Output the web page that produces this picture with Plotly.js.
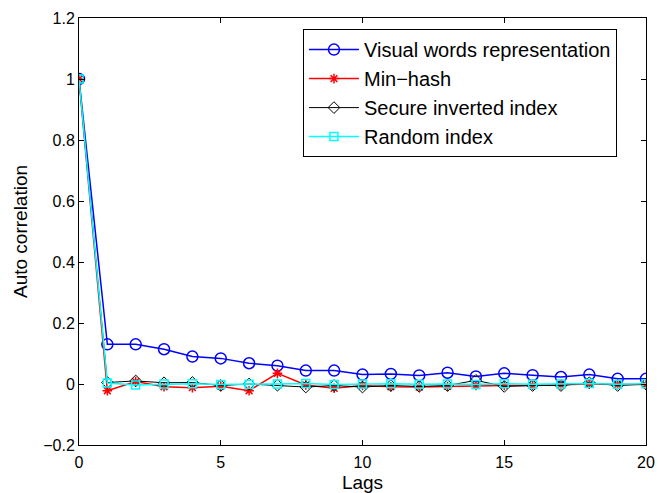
<!DOCTYPE html>
<html>
<head>
<meta charset="utf-8">
<script src="https://cdn.plot.ly/plotly-3.0.1.min.js"></script>
<style>html,body{margin:0;padding:0;background:#fff;}#chart{width:658px;height:493px;}</style>
</head>
<body>
<div id="chart"></div>
<script>
const lags = [0,1,2,3,4,5,6,7,8,9,10,11,12,13,14,15,16,17,18,19,20];
const visualWords = [1,0.130,0.130,0.114,0.090,0.084,0.068,0.060,0.044,0.044,0.031,0.033,0.028,0.037,0.025,0.035,0.029,0.023,0.031,0.017,0.017];
const minHash = [1,-0.022,0.008,-0.009,-0.012,-0.007,-0.022,0.035,-0.003,-0.014,-0.005,-0.009,-0.010,-0.008,-0.005,-0.005,-0.005,-0.003,0.000,-0.002,-0.002];
const secureIndex = [1,0.005,0.010,0.004,0.005,-0.005,0.000,-0.004,-0.010,-0.005,-0.010,-0.005,-0.008,-0.005,0.012,-0.008,-0.005,-0.005,0.004,-0.005,0.000];
const randomIndex = [1,0.003,-0.003,0.000,0.001,-0.002,-0.001,0.000,0.002,-0.002,0.000,0.001,-0.001,0.000,-0.002,0.001,-0.001,0.000,0.002,-0.001,0.001];
const names = ["Visual words representation","Min\u2212hash","Secure inverted index","Random index"];

const traces = [
  {x:lags, y:visualWords, name:names[0], mode:"lines+markers",
   line:{color:"#0000ff", width:1.5}, marker:{symbol:"circle-open", size:11, color:"#0000ff", line:{width:1.5}}},
  {x:lags, y:minHash, name:names[1], mode:"lines+markers",
   line:{color:"#ff0000", width:1.5}, marker:{symbol:"asterisk-open", size:8, color:"#ff0000", line:{width:1.5, color:"#ff0000"}}},
  {x:lags, y:secureIndex, name:names[2], mode:"lines+markers",
   line:{color:"#000000", width:1}, marker:{symbol:"diamond-open", size:9, color:"#000000", line:{width:1}}},
  {x:lags, y:randomIndex, name:names[3], mode:"lines+markers",
   line:{color:"#00ffff", width:1.5}, marker:{symbol:"square-open", size:8, color:"#00ffff", line:{width:1.5}}}
];

const axisCommon = {showgrid:false, zeroline:false, showline:true, linecolor:"#000", linewidth:1,
  mirror:"ticks", ticks:"inside", ticklen:5, tickcolor:"#000",
  tickfont:{size:16, color:"#000"}};

const layout = {
  width:658, height:493,
  margin:{l:79, r:12, t:18, b:48},
  paper_bgcolor:"#fff", plot_bgcolor:"#fff",
  font:{family:"Liberation Sans, Arial, sans-serif", color:"#000"},
  xaxis:Object.assign({}, axisCommon, {range:[0,20], dtick:5, tick0:0, ticklabelstandoff:3,
    title:{text:"Lags", font:{size:19}, standoff:6}}),
  yaxis:Object.assign({}, axisCommon, {range:[-0.2,1.2], dtick:0.2, tick0:-0.2,
    title:{text:"Auto correlation", font:{size:19}, standoff:10}}),
  showlegend:true,
  legend:{x:0.395, y:0.974, xanchor:"left", yanchor:"top", bgcolor:"#fff",
    bordercolor:"#000", borderwidth:1, font:{size:20}, tracegroupgap:0,
    itemwidth:50, entrywidth:334, entrywidthmode:"pixels"},
};

Plotly.newPlot("chart", traces, layout, {displayModeBar:false, staticPlot:true});
</script>
</body>
</html>
